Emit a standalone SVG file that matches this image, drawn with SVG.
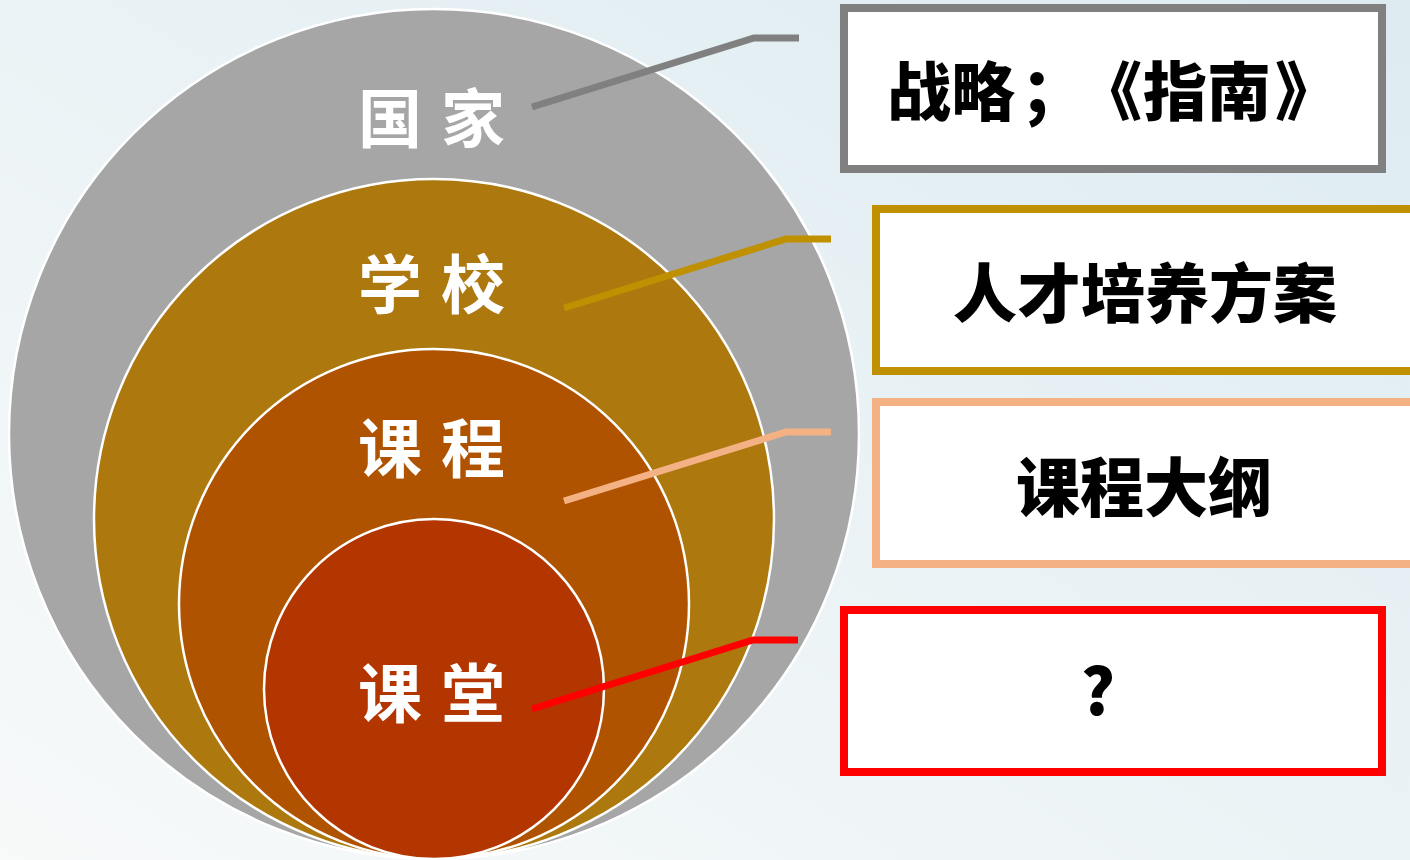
<svg xmlns="http://www.w3.org/2000/svg" width="1410" height="860" viewBox="0 0 1410 860">
<defs>
<linearGradient id="bg" x1="0" y1="1" x2="1" y2="0">
<stop offset="0" stop-color="#F8FAFA"/>
<stop offset="1" stop-color="#DDEBF1"/>
</linearGradient>
<style>
.ring{stroke:#FFFFFF;stroke-width:2.5}
.lbl{font-family:"Noto Sans CJK SC","Noto Sans",sans-serif;font-weight:700;font-size:64px;fill:#FFFFFF}
.box{fill:#FFFFFF;stroke-width:8}
.btx{font-family:"Noto Sans CJK SC","Noto Sans",sans-serif;font-weight:900;font-size:64px;fill:#000000}
.conn{fill:none;stroke-width:7;stroke-linejoin:miter}
</style>
</defs>
<rect x="0" y="0" width="1410" height="860" fill="url(#bg)"/>

<g id="circle-guojia">
<circle class="ring" cx="434" cy="434" r="425" fill="#A6A6A6"/>
<text class="lbl" y="142"><tspan x="358">国</tspan> <tspan x="441">家</tspan></text>
</g>
<g id="circle-xuexiao">
<circle class="ring" cx="434" cy="519" r="340" fill="#AD780D"/>
<text class="lbl" y="308"><tspan x="358">学</tspan> <tspan x="441">校</tspan></text>
</g>
<g id="circle-kecheng">
<circle class="ring" cx="434" cy="604" r="255" fill="#AF5300"/>
<text class="lbl" y="472"><tspan x="358">课</tspan> <tspan x="441">程</tspan></text>
</g>
<g id="circle-ketang">
<circle class="ring" cx="434" cy="689" r="170" fill="#B33500"/>
<text class="lbl" y="717"><tspan x="358">课</tspan> <tspan x="441">堂</tspan></text>
</g>

<g id="connectors">
<polyline class="conn" stroke="#808080" points="532,107 754,38 799,38"/>
<polyline class="conn" stroke="#BF9000" points="564,308 786,239 831,239"/>
<polyline class="conn" stroke="#F4B183" points="564,501 786,432 831,432"/>
<polyline class="conn" stroke="#FF0000" points="532,709 753,640 798,640"/>
</g>

<g id="box-zhanlue">
<rect class="box" x="844" y="8" width="538" height="161" stroke="#808080"/>
<text class="btx" x="887 951 1021 1078 1143 1207 1275" y="115">战略；《指南》</text>
</g>
<g id="box-rencai">
<rect class="box" x="876" y="209" width="600" height="162" stroke="#BF9000"/>
<text class="btx" x="953" y="317">人才培养方案</text>
</g>
<g id="box-dagang">
<rect class="box" x="876" y="402" width="600" height="162" stroke="#F4B183"/>
<text class="btx" x="1016" y="511">课程大纲</text>
</g>
<g id="box-question">
<rect class="box" x="844" y="610" width="538" height="162" stroke="#FF0000"/>
<text class="btx" x="1098" y="715" text-anchor="middle">?</text>
</g>
</svg>
